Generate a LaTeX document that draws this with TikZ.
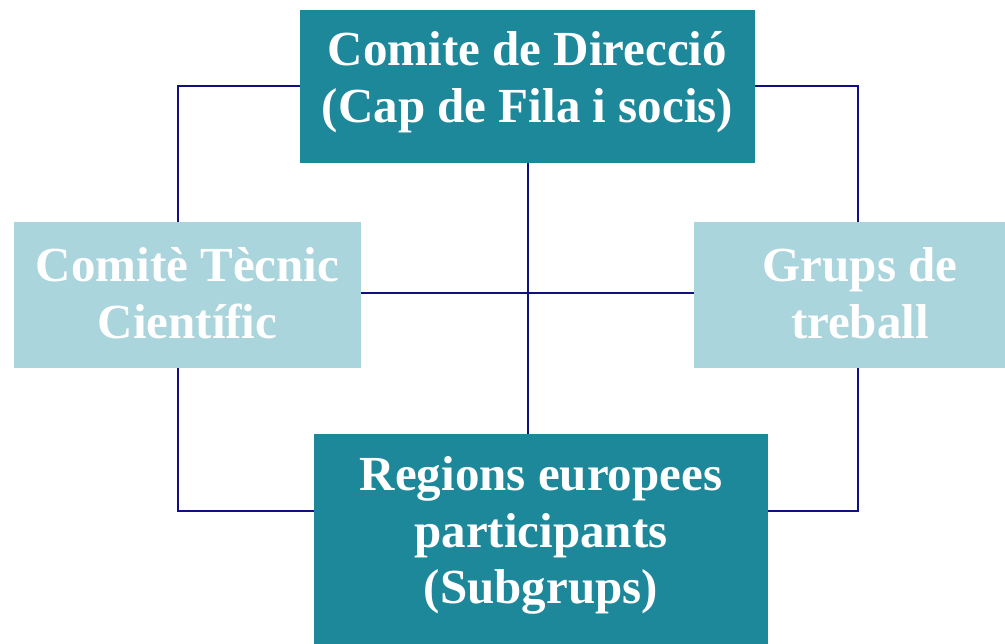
\documentclass[tikz,border=0pt]{standalone}
\usepackage{fontspec}
\setmainfont{Liberation Serif}
\definecolor{tealbox}{RGB}{30,136,155}
\definecolor{palebox}{RGB}{171,213,220}
\definecolor{navyline}{RGB}{16,16,128}
\begin{document}
\begin{tikzpicture}[x=1pt,y=-1pt,
	box/.style={shape=rectangle,inner sep=0pt,text=white,align=center,
		font=\fontsize{49}{57}\selectfont\bfseries},
	dark/.style={box,fill=tealbox},
	light/.style={box,fill=palebox,text depth=4pt},
	link/.style={draw=navyline,line width=2pt}]
	\path[use as bounding box,clip] (0,0) rectangle (1005,644);
	\node (direccio) [dark,text depth=20pt,minimum width=455pt,minimum height=153pt] at (527.5,86.5) {
		Comite de Direcció\\(Cap de Fila i socis)
	};
	\node (tecnic) [light,minimum width=347pt,minimum height=146pt] at (187.5,295) {
		Comitè Tècnic\\Científic
	};
	\node (grups) [light,minimum width=332pt,minimum height=146pt] at (860,295) {
		Grups de\\treball
	};
	\node (regions) [dark,text depth=18pt,minimum width=454pt,minimum height=210pt] at (541,539) {
		Regions europees\\participants\\(Subgrups)
	};

	\coordinate (xl) at (178,0);
	\coordinate (xr) at (858,0);
	\coordinate (yb) at (0,511);
	\coordinate (yh) at (0,293);

	\draw[link] (direccio.west) -| (tecnic.north -| xl);
	\draw[link] (direccio.east) -| (grups.north -| xr);
	\draw[link] (tecnic.south -| xl) |- (regions.west |- yb);
	\draw[link] (grups.south -| xr) |- (regions.east |- yb);
	\draw[link] (direccio.south) -- (regions.north -| direccio.south);
	\draw[link] (tecnic.east |- yh) -- (grups.west |- yh);
\end{tikzpicture}
\end{document}
